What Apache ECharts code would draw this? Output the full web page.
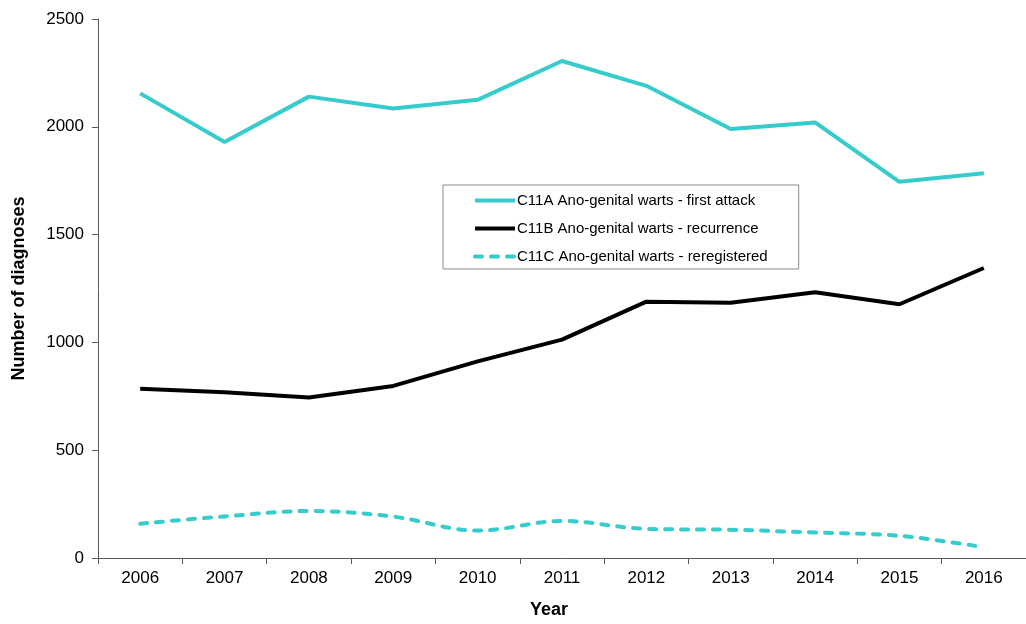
<!DOCTYPE html>
<html>
<head>
<meta charset="utf-8">
<script src="https://cdn.jsdelivr.net/npm/echarts@6/dist/echarts.min.js"></script>
<style>
  html, body { margin: 0; padding: 0; background: #fff; }
  #chart { width: 1026px; height: 624px; }
</style>
</head>
<body>
<div id="chart"></div>
<script>
// Ano-genital warts diagnoses by year
const years = ['2006', '2007', '2008', '2009', '2010', '2011', '2012', '2013', '2014', '2015', '2016'];
const firstAttack = [2155, 1930, 2140, 2085, 2125, 2305, 2190, 1990, 2020, 1745, 1785];
const recurrence = [785, 769, 744, 798, 912, 1013, 1189, 1184, 1233, 1177, 1345];
const reregistered = [159, 193, 218, 192, 127, 172, 135, 131, 118, 103, 50];
const seriesNames = [
  'C11A Ano-genital warts - first attack',
  'C11B Ano-genital warts - recurrence',
  'C11C Ano-genital warts - reregistered'
];

const teal = '#36CCCC';
const font = 'Liberation Sans, Arial, sans-serif';

const chart = echarts.init(document.getElementById('chart'));
chart.setOption({
  animation: false,
  textStyle: { fontFamily: font },
  grid: { left: 98, top: 19, bottom: 66, right: -8, containLabel: false },
  legend: {
    orient: 'vertical',
    left: 443,
    top: 185,
    padding: [8, 31, 5, 30],
    itemGap: 13,
    itemWidth: 40,
    itemHeight: 14,
    borderColor: '#8c8c8c',
    borderWidth: 1,
    itemStyle: { opacity: 0 },
    lineStyle: { width: 4 },
    textStyle: { fontFamily: font, fontSize: 15, color: '#000', padding: [0, 0, 0, -3] },
    data: seriesNames
  },
  xAxis: {
    type: 'category',
    data: years,
    boundaryGap: true,
    name: 'Year',
    nameLocation: 'middle',
    nameGap: 43,
    nameTextStyle: { fontFamily: font, fontSize: 18, fontWeight: 'bold', color: '#000', padding: [0, 26, 0, 0] },
    axisLine: { lineStyle: { color: '#595959', width: 1 } },
    axisTick: { show: true, length: 6, alignWithLabel: false, lineStyle: { color: '#595959' } },
    axisLabel: { fontFamily: font, fontSize: 17, color: '#000', margin: 12 },
    splitLine: { show: false }
  },
  yAxis: {
    type: 'value',
    min: 0,
    max: 2500,
    interval: 500,
    name: 'Number of diagnoses',
    nameLocation: 'middle',
    nameGap: 70,
    nameTextStyle: { fontFamily: font, fontSize: 18, fontWeight: 'bold', color: '#000' },
    axisLine: { show: true, lineStyle: { color: '#595959', width: 1 } },
    axisTick: { show: true, length: 6, lineStyle: { color: '#595959' } },
    axisLabel: { fontFamily: font, fontSize: 17, color: '#000', margin: 14, formatter: v => String(v) },
    splitLine: { show: false }
  },
  series: [
    {
      name: seriesNames[0],
      type: 'line',
      data: firstAttack,
      symbol: 'none',
      itemStyle: { color: teal },
      lineStyle: { color: teal, width: 4 }
    },
    {
      name: seriesNames[1],
      type: 'line',
      data: recurrence,
      symbol: 'none',
      itemStyle: { color: '#000' },
      lineStyle: { color: '#000', width: 4 }
    },
    {
      name: seriesNames[2],
      type: 'line',
      data: reregistered,
      symbol: 'none',
      smooth: 0.35,
      itemStyle: { color: teal },
      lineStyle: { color: teal, width: 4, type: [7, 9], cap: 'round' }
    }
  ]
});
</script>
</body>
</html>
